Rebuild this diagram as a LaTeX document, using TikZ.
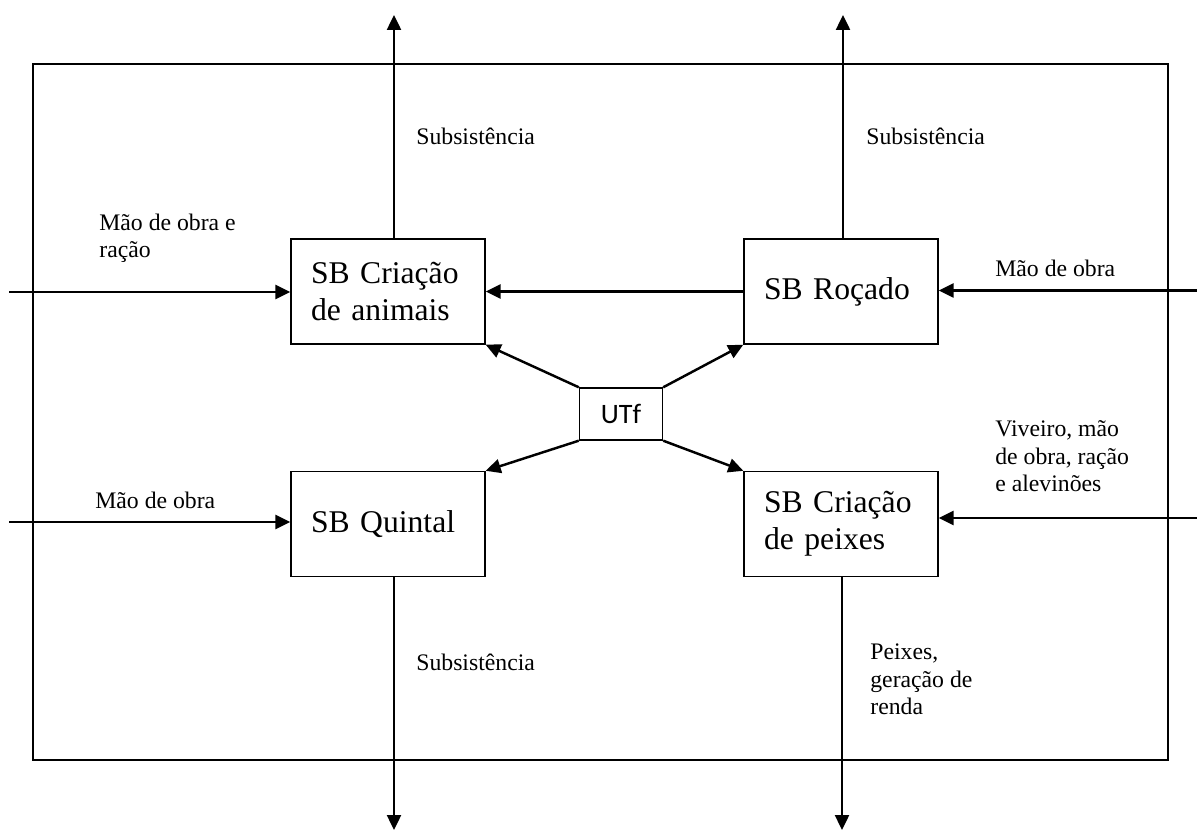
\documentclass[tikz,border=0pt]{standalone}
\usepackage{fontspec}
\setmainfont{Liberation Serif}
\newfontfamily\utffont{Carlito}
\usetikzlibrary{arrows.meta,positioning,calc}

\begin{document}
\begin{tikzpicture}[
  x=0.02cm, y=-0.02cm,
  sbbox/.style={draw,line width=.8pt,minimum width=3.88cm,minimum height=2.1cm,
                text width=3.08cm,inner xsep=.4cm,align=left,
                font=\fontsize{18}{21}\selectfont},
  utfbox/.style={draw,line width=.8pt,minimum width=1.66cm,minimum height=1.04cm,
                 font=\utffont\fontsize{16}{18}\selectfont},
  lbl/.style={anchor=base west,align=left,inner sep=0pt,
              font=\fontsize{13.5}{15.9}\selectfont},
  flow/.style={draw,line width=1.4pt,-{Triangle[length=3mm,width=2.8mm]}}
]
\useasboundingbox (0,0) rectangle (1197,830);
% moldura da unidade
\draw[line width=.8pt] (33,64) rectangle (1168,760);

% subsistemas
\node[sbbox] (anim) at (388,291.5) {SB Criação\\de animais};
\node[sbbox] (rocado) at (841,291.5) {SB Roçado};
\node[sbbox] (quintal) at (388,524) {SB Quintal};
\node[sbbox] (peixes) at (841,524) {SB Criação\\de peixes};
\node[utfbox] (utf) at (621,414) {UTf};

% pontos livres
\coordinate (animOut) at (394,15);
\coordinate (rocOut) at (843,15);
\coordinate (quinOut) at (394,830);
\coordinate (peixOut) at (842,830);
\coordinate (animIn) at (9,292);
\coordinate (rocIn) at (1197,290.5);
\coordinate (quinIn) at (9,522);
\coordinate (peixIn) at (1197,518);

% fluxos
\draw[flow] (animOut |- anim.north) -- (animOut);
\draw[flow] (rocOut |- rocado.north) -- (rocOut);
\draw[flow] (quinOut |- quintal.south) -- (quinOut);
\draw[flow] (peixOut |- peixes.south) -- (peixOut);
\draw[flow] (animIn) -- (animIn -| anim.west);
\draw[flow] (rocIn) -- (rocIn -| rocado.east);
\draw[flow] (quinIn) -- (quinIn -| quintal.west);
\draw[flow] (peixIn) -- (peixIn -| peixes.east);
\draw[flow] (rocado.west) -- (anim.east);
\draw[flow] (utf.north west) -- (anim.south east);
\draw[flow] (utf.north east) -- (rocado.south west);
\draw[flow] (utf.south west) -- (quintal.north east);
\draw[flow] (utf.south east) -- (peixes.north west);

% rótulos (base = última linha)
\node[lbl] (lSubA) at (416,145) {Subsistência};
\node[lbl] (lSubR) at (866,145) {Subsistência};
\node[lbl] (lSubQ) at (416,671) {Subsistência};
\node[lbl] (lMaoA) at (99,258) {Mão de obra e\\ração};
\node[lbl] (lMaoR) at (995,277) {Mão de obra};
\node[lbl] (lMaoQ) at (95,509) {Mão de obra};
\node[lbl] (lViv) at (995,492) {Viveiro, mão\\de obra, ração\\e alevinões};
\node[lbl] (lPeix) at (870,715) {Peixes,\\geração de\\renda};
\end{tikzpicture}
\end{document}
